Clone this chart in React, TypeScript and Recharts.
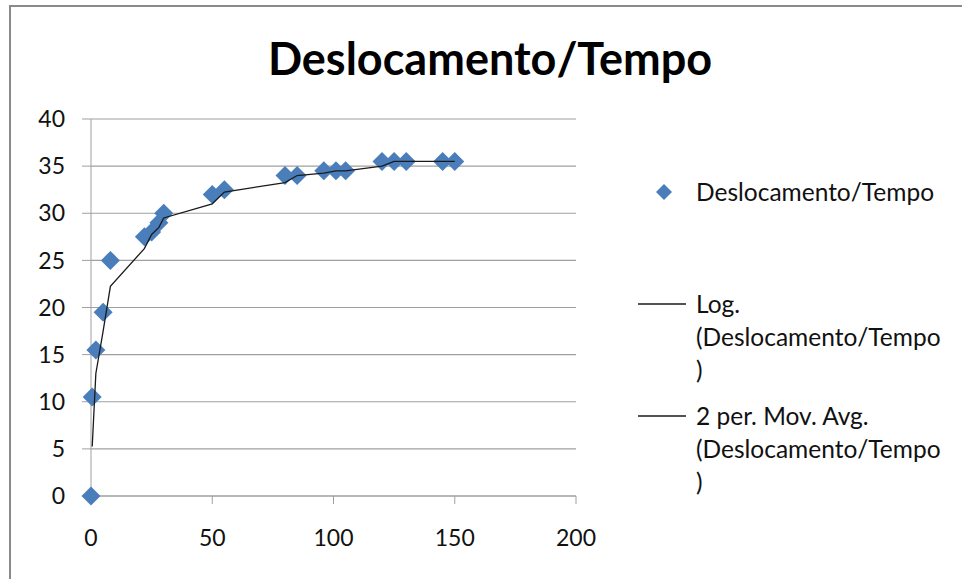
import React from 'react';
import { ScatterChart, Scatter, XAxis, YAxis, CartesianGrid } from 'recharts';

// tempo (x) e deslocamento (y)
const tempo = [0, 0.5, 2, 5, 8, 22, 25, 28, 30, 50, 55, 80, 85, 96, 101, 105, 120, 125, 130, 145, 150];
const deslocamento = [0, 10.5, 15.5, 19.5, 25, 27.5, 28, 29, 30, 32, 32.5, 34, 34, 34.5, 34.5, 34.5, 35.5, 35.5, 35.5, 35.5, 35.5];

// média móvel de 2 períodos (linha preta), a partir do 2º ponto
const mediaTempo = [0.5, 2, 5, 8, 22, 25, 28, 30, 50, 55, 80, 85, 96, 101, 105, 120, 125, 130, 145, 150];
const mediaValor = [5.25, 13, 17.5, 22.25, 26.25, 27.75, 28.5, 29.5, 31, 32.25, 33.25, 34, 34.25, 34.5, 34.5, 35, 35.5, 35.5, 35.5, 35.5];

const xTicks = [0, 50, 100, 150, 200];
const yTicks = [0, 5, 10, 15, 20, 25, 30, 35, 40];

const pontos = tempo.map((x, i) => ({ x, y: deslocamento[i] }));
const media = mediaTempo.map((x, i) => ({ x, y: mediaValor[i] }));

const AZUL = '#4a7ebb';
const CINZA = '#a0a0a0';
const FONTE = 'Lato, "Open Sans", sans-serif';

const Diamante = (props: any) => {
  const { cx, cy } = props;
  if (cx == null || cy == null) return <g />;
  const r = 9.5;
  return <path d={`M${cx},${cy - r}L${cx + r},${cy}L${cx},${cy + r}L${cx - r},${cy}Z`} fill={AZUL} />;
};

const Nada = () => <g />;

const texto: React.CSSProperties = { position: 'absolute', left: 696, fontSize: 24.5, lineHeight: '33px', color: '#111', whiteSpace: 'nowrap' };

export default function App() {
  return (
    <div style={{ position: 'absolute', left: 0, top: 0, width: 962, height: 579, overflow: 'hidden', background: '#fff', fontFamily: FONTE }}>
      <div style={{ position: 'absolute', left: 9, top: 5, width: 1000, height: 700, border: '2px solid #8a8a8a' }} />
      <div style={{ position: 'absolute', left: 0, width: 980, top: 31, textAlign: 'center', fontSize: 45, fontWeight: 700, color: '#000' }}>
        Deslocamento/Tempo
      </div>

      <ScatterChart width={962} height={579} margin={{ top: 119, right: 386, bottom: 0, left: 0 }} style={{ position: 'absolute', left: 0, top: 0 }}>
        <CartesianGrid vertical={false} stroke={CINZA} strokeWidth={1.2} />
        <XAxis
          type="number"
          dataKey="x"
          domain={[0, 200]}
          ticks={xTicks}
          height={83}
          tickSize={8}
          tickMargin={26}
          stroke={CINZA}
          tick={{ fill: '#111', fontSize: 23, fontFamily: FONTE }}
          interval={0}
        />
        <YAxis
          type="number"
          dataKey="y"
          domain={[0, 40]}
          ticks={yTicks}
          width={91}
          tickSize={9}
          tickMargin={17}
          stroke={CINZA}
          tick={{ fill: '#111', fontSize: 23, fontFamily: FONTE }}
          interval={0}
        />
        <Scatter data={pontos} shape={<Diamante />} isAnimationActive={false} />
        <Scatter data={media} shape={<Nada />} line={{ stroke: '#1a1a1a', strokeWidth: 1.3 }} isAnimationActive={false} />
      </ScatterChart>

      <svg width={962} height={579} style={{ position: 'absolute', left: 0, top: 0, pointerEvents: 'none' }}>
        <path d="M664,184L672,192L664,200L656,192Z" fill={AZUL} />
        <line x1={638} x2={686} y1={304} y2={304} stroke="#1a1a1a" strokeWidth={1.3} />
        <line x1={638} x2={686} y1={416} y2={416} stroke="#1a1a1a" strokeWidth={1.3} />
      </svg>
      <div style={{ ...texto, top: 175 }}>Deslocamento/Tempo</div>
      <div style={{ ...texto, top: 287 }}>
        Log.<br />(Deslocamento/Tempo<br />)
      </div>
      <div style={{ ...texto, top: 399 }}>
        2 per. Mov. Avg.<br />(Deslocamento/Tempo<br />)
      </div>
    </div>
  );
}
